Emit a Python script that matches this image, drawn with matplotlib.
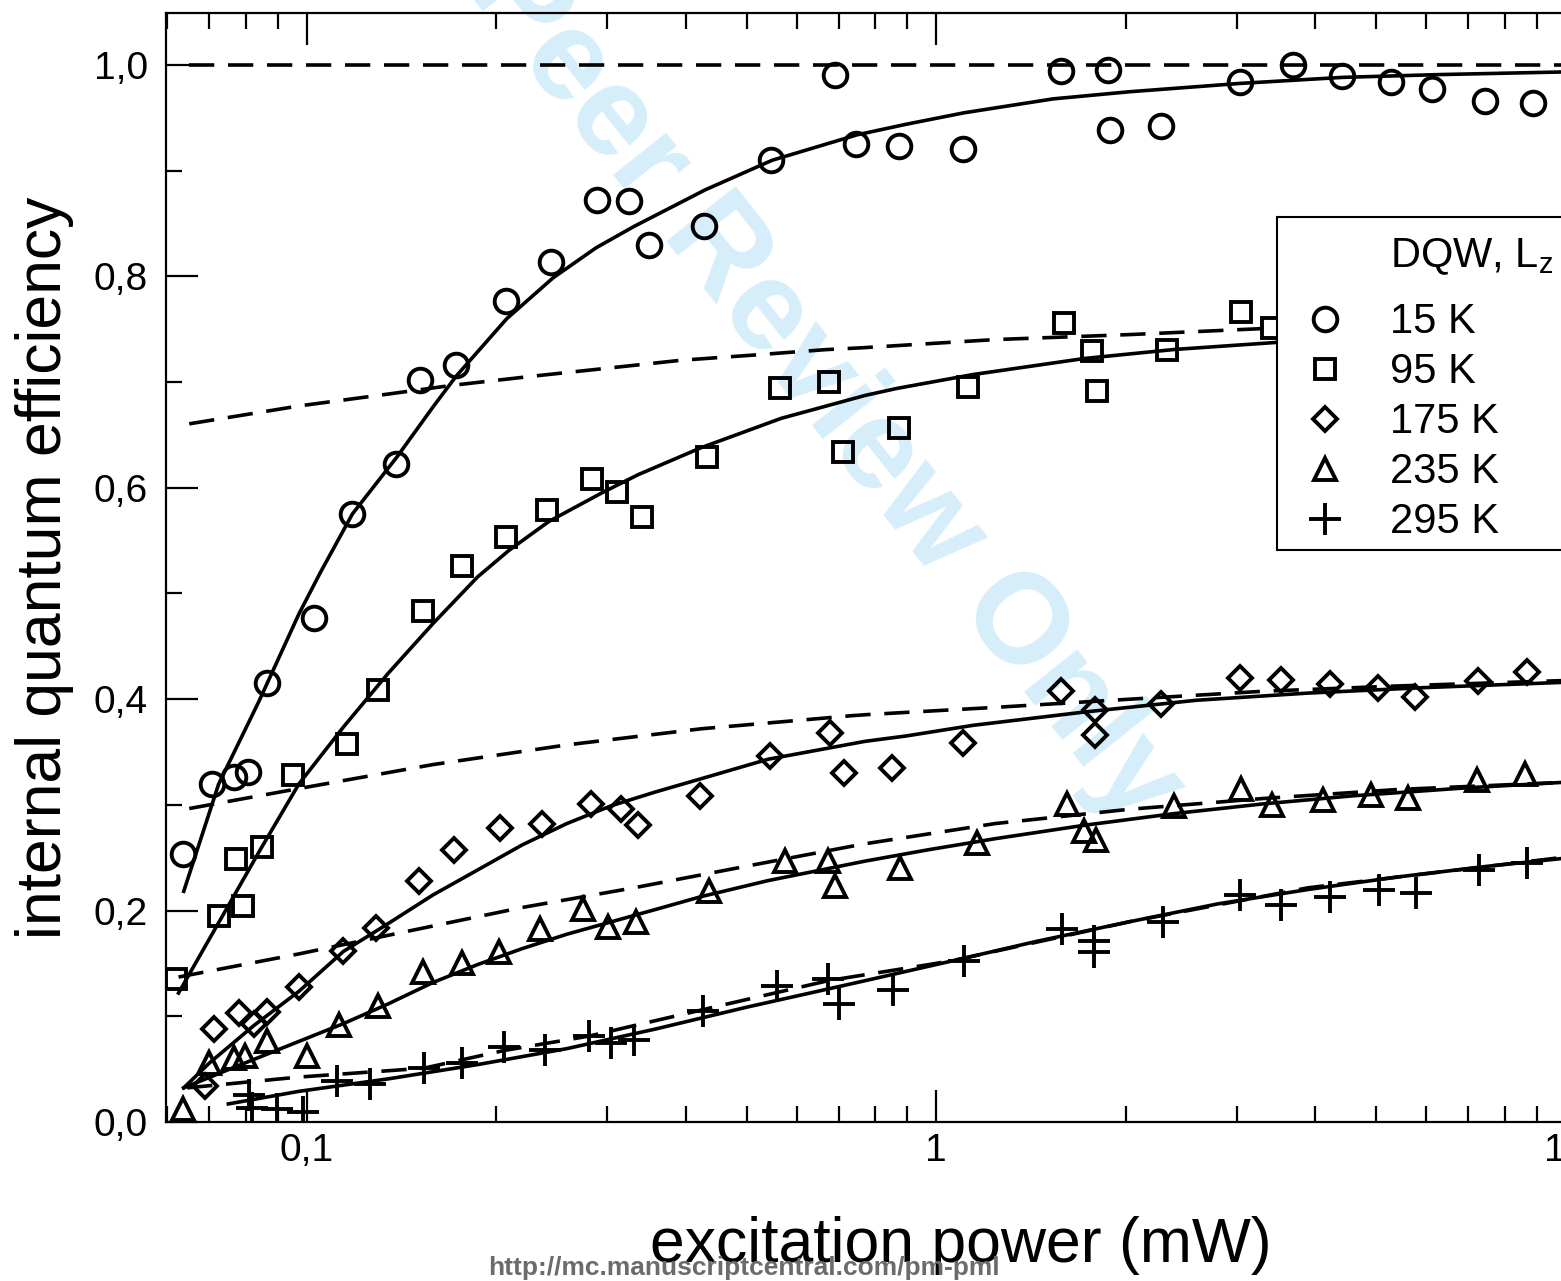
import numpy as np
import matplotlib
matplotlib.use("Agg")
import matplotlib.pyplot as plt
from matplotlib.lines import Line2D
from matplotlib.ticker import LogLocator, MultipleLocator, NullFormatter

plt.rcParams['font.family'] = ['Liberation Sans', 'DejaVu Sans']
plt.rcParams['mathtext.fontset'] = 'custom'
plt.rcParams['mathtext.rm'] = 'Liberation Sans'
plt.rcParams['mathtext.it'] = 'Liberation Sans:italic'

# ---------------- data: excitation power (mW) / internal quantum efficiency
temps = ["15 K", "95 K", "175 K", "235 K", "295 K"]

p15 = [0.0635, 0.0706, 0.0765, 0.0807, 0.0863, 0.1025, 0.1181, 0.1384, 0.1510,
       0.1725, 0.2069, 0.2443, 0.2891, 0.3250, 0.3491, 0.4277, 0.5465, 0.6899,
       0.7461, 0.8734, 1.103, 1.578, 1.877, 1.891, 2.279, 3.039, 3.691, 4.418,
       5.270, 6.124, 7.456, 8.892]
iqe15 = [0.2535, 0.3198, 0.3264, 0.3311, 0.4148, 0.4768, 0.5752, 0.6225, 0.7020,
         0.7162, 0.7763, 0.8136, 0.8723, 0.8709, 0.8297, 0.8472, 0.9101, 0.9908,
         0.9253, 0.9234, 0.9199, 0.9943, 0.9949, 0.9385, 0.9418, 0.9840, 1.0000,
         0.9891, 0.9839, 0.9773, 0.9655, 0.9640]

p95 = [0.0620, 0.0724, 0.0791, 0.0772, 0.0848, 0.0950, 0.1156, 0.1297, 0.1529,
       0.1763, 0.2069, 0.2404, 0.2841, 0.3108, 0.3405, 0.4318, 0.5654, 0.6755,
       0.7107, 0.8734, 1.124, 1.598, 1.771, 1.801, 2.328, 3.049, 3.418]
iqe95 = [0.1354, 0.1952, 0.2046, 0.2485, 0.2604, 0.3279, 0.3573, 0.4091, 0.4834,
         0.5262, 0.5533, 0.5793, 0.6079, 0.5955, 0.5725, 0.6292, 0.6941, 0.6995,
         0.6333, 0.6563, 0.6952, 0.7560, 0.7290, 0.6918, 0.7307, 0.7661, 0.7509]

p175 = [0.0689, 0.0711, 0.0779, 0.0825, 0.0863, 0.0971, 0.1140, 0.1286, 0.1505,
        0.1714, 0.2025, 0.2365, 0.2831, 0.3150, 0.3362, 0.4211, 0.5443, 0.6789,
        0.7126, 0.8493, 1.103, 1.580, 1.786, 1.786, 2.279, 3.039, 3.531, 4.227,
        5.034, 5.767, 7.250, 8.678]
iqe175 = [0.0340, 0.0880, 0.1032, 0.0931, 0.1040, 0.1276, 0.1614, 0.1836, 0.2283,
          0.2570, 0.2783, 0.2823, 0.3009, 0.2965, 0.2806, 0.3087, 0.3465, 0.3675,
          0.3303, 0.3347, 0.3584, 0.4080, 0.3898, 0.3661, 0.3956, 0.4202, 0.4182,
          0.4141, 0.4107, 0.4023, 0.4175, 0.4259]

p235 = [0.0635, 0.0700, 0.0766, 0.0796, 0.0863, 0.1000, 0.1125, 0.1299, 0.1529,
        0.1763, 0.2019, 0.2347, 0.2741, 0.3009, 0.3335, 0.4352, 0.5745, 0.6735,
        0.6899, 0.8773, 1.162, 1.612, 1.720, 1.792, 2.386, 3.049, 3.418, 4.123,
        4.913, 5.627, 7.225, 8.633]
iqe235 = [0.0120, 0.0559, 0.0610, 0.0621, 0.0763, 0.0627, 0.0914, 0.1100, 0.1421,
          0.1505, 0.1607, 0.1827, 0.2012, 0.1844, 0.1894, 0.2182, 0.2468, 0.2468,
          0.2232, 0.2401, 0.2638, 0.3009, 0.2756, 0.2672, 0.2992, 0.3154, 0.2999,
          0.3043, 0.3094, 0.3060, 0.3236, 0.3296]

p295 = [0.0809, 0.0818, 0.0896, 0.0986, 0.1115, 0.1261, 0.1534, 0.1763, 0.2060,
        0.2385, 0.2809, 0.3047, 0.3307, 0.4260, 0.5580, 0.6735, 0.7014, 0.8547,
        1.107, 1.585, 1.783, 1.783, 2.290, 3.039, 3.531, 4.227, 5.059, 5.793,
        7.284, 8.678]
iqe295 = [0.0255, 0.0132, 0.0123, 0.0095, 0.0391, 0.0357, 0.0509, 0.0559, 0.0711,
          0.0677, 0.0813, 0.0746, 0.0780, 0.1049, 0.1286, 0.1353, 0.1117, 0.1253,
          0.1527, 0.1827, 0.1709, 0.1607, 0.1894, 0.2148, 0.2053, 0.2131, 0.2199,
          0.2165, 0.2384, 0.2451]

# model curves (solid)
fit15_p = [0.0637, 0.0724, 0.0838, 0.0971, 0.1049, 0.1181, 0.1390, 0.1586, 0.1725,
           0.2076, 0.2461, 0.2880, 0.3311, 0.4293, 0.5485, 0.7489, 0.8947, 1.107,
           1.535, 2.027, 3.039, 4.418, 6.353, 9.855]
fit15_q = [0.2182, 0.3198, 0.3974, 0.4806, 0.5192, 0.5752, 0.6291, 0.6764, 0.7053,
           0.7597, 0.7985, 0.8269, 0.8472, 0.8817, 0.9097, 0.9338, 0.9437, 0.9546,
           0.9678, 0.9745, 0.9824, 0.9881, 0.9908, 0.9932]

fit95_p = [0.0625, 0.0845, 0.0971, 0.1143, 0.1345, 0.1586, 0.1867, 0.2094, 0.2424,
           0.2950, 0.3362, 0.4225, 0.5671, 0.7713, 0.8659, 1.1435, 1.719, 2.386, 3.471]
fit95_q = [0.1220, 0.2587, 0.3198, 0.3737, 0.4242, 0.4715, 0.5156, 0.5407, 0.5681,
           0.5955, 0.6124, 0.6377, 0.6656, 0.6873, 0.6939, 0.7070, 0.7222, 0.7307, 0.7374]

fit175_p = [0.0637, 0.0700, 0.0824, 0.0971, 0.1143, 0.1346, 0.1586, 0.1867, 0.2198,
            0.2588, 0.3047, 0.3589, 0.4225, 0.5401, 0.7713, 0.8947, 1.1435, 1.720,
            2.588, 3.895, 5.861, 9.855]
fit175_q = [0.0323, 0.0559, 0.0914, 0.1236, 0.1614, 0.1877, 0.2148, 0.2384, 0.2621,
            0.2823, 0.2992, 0.3124, 0.3246, 0.3431, 0.3601, 0.3651, 0.3752, 0.3878,
            0.3989, 0.4057, 0.4107, 0.4158]

fit235_p = [0.0637, 0.0760, 0.0894, 0.1143, 0.1346, 0.1586, 0.1867, 0.2198, 0.2588,
            0.3047, 0.3589, 0.4225, 0.5401, 0.7713, 0.9712, 1.241, 1.720, 2.386,
            3.307, 4.588, 6.887, 9.855]
fit235_q = [0.0323, 0.0509, 0.0677, 0.0931, 0.1117, 0.1320, 0.1489, 0.1640, 0.1776,
            0.1894, 0.2012, 0.2131, 0.2283, 0.2468, 0.2575, 0.2680, 0.2807, 0.2917,
            0.3009, 0.3085, 0.3159, 0.3212]

fit295_p = [0.0750, 0.0971, 0.1346, 0.1867, 0.2588, 0.3589, 0.4972, 0.7713, 1.0445,
            1.4442, 2.027, 2.800, 3.895, 5.393, 7.496, 9.855]
fit295_q = [0.0171, 0.0290, 0.0408, 0.0543, 0.0694, 0.0881, 0.1083, 0.1337, 0.1515,
            0.1709, 0.1894, 0.2063, 0.2199, 0.2317, 0.2418, 0.2492]

# reference curves (dashed)
ref15_p = [0.0649, 10.0]
ref15_q = [1.0, 1.0]

ref95_p = [0.0650, 0.0971, 0.1302, 0.1706, 0.2271, 0.2999, 0.3926, 0.5140, 0.6679,
           0.7601, 1.241, 2.026, 3.418]
ref95_q = [0.6604, 0.6773, 0.6874, 0.6969, 0.7053, 0.7130, 0.7205, 0.7255, 0.7306,
           0.7323, 0.7401, 0.7448, 0.7509]

ref175_p = [0.0650, 0.0971, 0.1586, 0.2588, 0.4225, 0.7367, 0.7789, 1.241, 2.026,
            3.301, 5.378, 9.855]
ref175_q = [0.2965, 0.3154, 0.3381, 0.3567, 0.3719, 0.3844, 0.3854, 0.3922, 0.3999,
            0.4074, 0.4124, 0.4175]

ref235_p = [0.0625, 0.0971, 0.1461, 0.2198, 0.3307, 0.4977, 0.7655, 1.241, 2.026,
            3.307, 5.400, 9.855]
ref235_q = [0.1371, 0.1590, 0.1810, 0.2029, 0.2215, 0.2418, 0.2629, 0.2823, 0.2958,
            0.3060, 0.3145, 0.3212]

ref295_p = [0.0645, 0.0971, 0.1534, 0.2060, 0.2809, 0.4238, 0.6735, 0.7601, 1.054,
            2.026, 3.895, 9.855]
ref295_q = [0.0323, 0.0425, 0.0509, 0.0677, 0.0813, 0.1060, 0.1337, 0.1387, 0.1522,
            0.1894, 0.2215, 0.2502]

legend_title = "DQW, L$_\\mathregular{z}$"
x_ticks = [0.1, 1, 10]
x_tick_labels = ["0,1", "1", "10"]
y_ticks = [0.0, 0.2, 0.4, 0.6, 0.8, 1.0]
y_tick_labels = ["0,0", "0,2", "0,4", "0,6", "0,8", "1,0"]

# ---------------- figure
W, H = 1561, 1281
fig = plt.figure(figsize=(W / 100, H / 100), dpi=100)
ax = fig.add_axes([166 / W, 1 - 1122 / H, (1755 - 166) / W, (1122 - 13) / H])
ax.patch.set_alpha(0)
ax.set_xscale('log')
ax.set_xlim(0.0597, 20)
ax.set_ylim(0, 1.049)

LW = 2.6
DASH = (7, 3.8)

series = [
    (p15, iqe15, fit15_p, fit15_q, ref15_p, ref15_q, 'o', 17),
    (p95, iqe95, fit95_p, fit95_q, ref95_p, ref95_q, 's', 14),
    (p175, iqe175, fit175_p, fit175_q, ref175_p, ref175_q, 'D', 12.5),
    (p235, iqe235, fit235_p, fit235_q, ref235_p, ref235_q, '^', 16),
    (p295, iqe295, fit295_p, fit295_q, ref295_p, ref295_q, '+', 23),
]

handles = [Line2D([], [], linestyle='none', marker='none')]
labels = [legend_title]
for (px, qy, fx, fy, rx, ry, mk, ms), name in zip(series, temps):
    ax.plot(rx, ry, color='black', lw=LW, dashes=DASH, zorder=2)
    ax.plot(fx, fy, color='black', lw=LW, zorder=2)
    h, = ax.plot(px, qy, linestyle='none', marker=mk, markersize=ms,
                 markerfacecolor='none', markeredgecolor='black',
                 markeredgewidth=2.8, zorder=3)
    handles.append(h)
    labels.append(name)

# axes styling
ax.set_xticks(x_ticks)
ax.set_xticklabels(x_tick_labels)
ax.xaxis.set_minor_locator(LogLocator(base=10, subs=np.arange(2, 10)))
ax.xaxis.set_minor_formatter(NullFormatter())
ax.set_yticks(y_ticks)
ax.set_yticklabels(y_tick_labels)
ax.yaxis.set_minor_locator(MultipleLocator(0.1))
ax.tick_params(which='both', direction='in', top=True, right=True, width=1.6)
ax.tick_params(which='major', length=23)
ax.tick_params(which='minor', length=11.5)
ax.tick_params(axis='y', which='major', pad=13, labelsize=28)
ax.tick_params(axis='x', which='major', pad=8, labelsize=28)
for sp in ax.spines.values():
    sp.set_linewidth(1.6)

ax.set_xlabel("excitation power (mW)", fontsize=45)
ax.xaxis.set_label_coords(0.5, -0.085)
ax.set_ylabel("internal quantum efficiency", fontsize=45)
ax.yaxis.set_label_coords(-0.058, 0.5)

# legend box runs on past the right edge of the figure
leg = ax.legend(handles, labels, loc='upper left', mode='expand',
                bbox_to_anchor=(1277 / W, 0.0, 360 / W, 1 - 217 / H),
                bbox_transform=fig.transFigure, borderaxespad=0,
                fontsize=30, frameon=True, fancybox=False, edgecolor='black',
                framealpha=1, borderpad=0.185, handlelength=1.93,
                handletextpad=0.59, labelspacing=0.24, numpoints=1)
leg.get_frame().set_linewidth(1.5)
leg.set_zorder(5)

# give the heading row of the legend some extra room above and below
fig.canvas.draw()
renderer = fig.canvas.get_renderer()
head_row = leg._legend_handle_box.get_children()[0].get_children()[0]
head_area, head_text = head_row.get_children()
tb = head_text.get_bbox(renderer)
px_per_pt = renderer.points_to_pixels(1.0)
extra_above, extra_below = 12, 15
head_area.ydescent = (-tb.y0 + extra_below) / px_per_pt
head_area.height = (tb.y1 - tb.y0 + extra_above + extra_below) / px_per_pt

# review watermark and journal URL
fig.text(750 / W, 1 - 295 / H, "For Peer Review Only", rotation=-51.5,
         rotation_mode='anchor', ha='center', va='center', fontsize=92,
         fontweight='bold', color='#d6eefa', zorder=-10)
fig.text(743.5 / W, 1 - 1268 / H, "http://mc.manuscriptcentral.com/pm-pml",
         ha='center', va='center', fontsize=19, fontweight='bold',
         color='#6b6b6b', zorder=10)

fig.savefig("out.png", dpi=100, facecolor='white')
